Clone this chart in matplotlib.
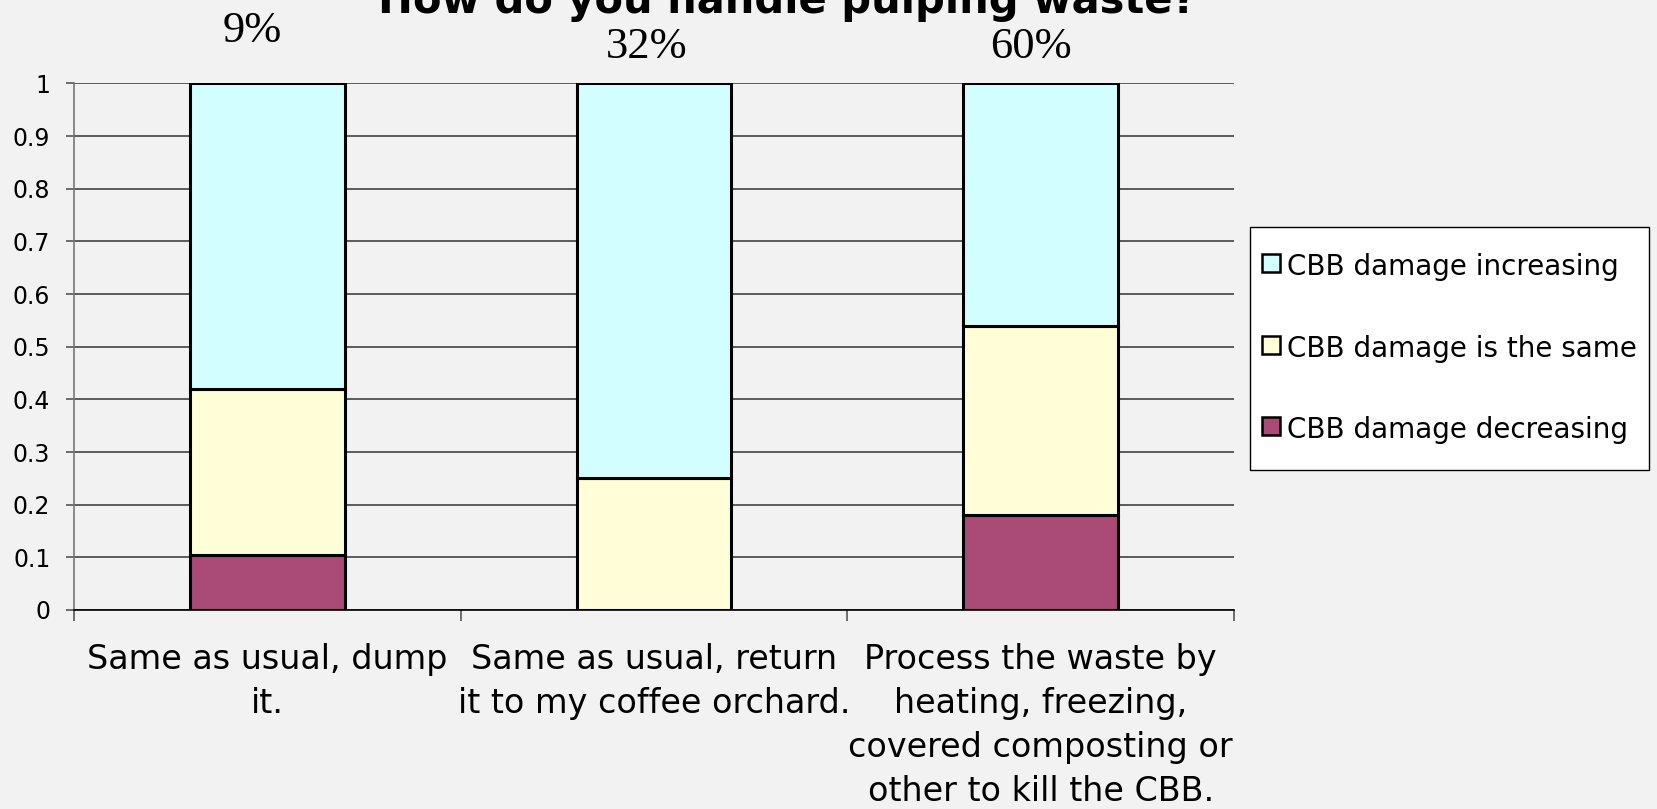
import matplotlib
matplotlib.use("Agg")
import matplotlib.pyplot as plt
from matplotlib.patches import Patch, Rectangle
from matplotlib.legend_handler import HandlerPatch
import numpy as np

# dados
categorias = ["Same as usual, dump\nit.",
              "Same as usual, return\nit to my coffee orchard.",
              "Process the waste by\nheating, freezing,\ncovered composting or\nother to kill the CBB."]
dano_diminuindo = [0.105, 0.0, 0.18]
dano_igual = [0.315, 0.25, 0.36]
dano_aumentando = [0.58, 0.75, 0.46]
percentuais = ["9%", "32%", "60%"]
pos_percentual = [1.099, 1.069, 1.069]
desvio_percentual = [-0.04, -0.02, -0.025]

cor_fundo = "#F2F2F2"
cores = {"aumentando": "#D3FEFF", "igual": "#FFFED6", "diminuindo": "#AA4A76"}
series = [("CBB damage increasing", cores["aumentando"]),
          ("CBB damage is the same", cores["igual"]),
          ("CBB damage decreasing", cores["diminuindo"])]


def quadrado(legend, orig_handle, xdescent, ydescent, width, height, fontsize):
    # quadradinho centrado na altura das maiúsculas do texto
    lado = 0.64 * fontsize
    return Rectangle((width / 2 - xdescent - lado / 2, 0.44 * fontsize - lado / 2),
                     lado, lado)


fig = plt.figure(figsize=(16.58, 8.09), dpi=100, facecolor=cor_fundo)
ax = fig.add_axes([0.0446, 0.246, 0.6997, 0.6508])
ax.set_facecolor(cor_fundo)

x = np.arange(len(categorias))
largura = 0.4
base2 = np.array(dano_diminuindo)
base3 = base2 + np.array(dano_igual)

estilo = dict(width=largura, edgecolor="black", linewidth=2.2, zorder=3)
ax.bar(x, dano_diminuindo, color=cores["diminuindo"], **estilo)
ax.bar(x, dano_igual, bottom=base2, color=cores["igual"], **estilo)
ax.bar(x, dano_aumentando, bottom=base3, color=cores["aumentando"], **estilo)

ax.set_xlim(-0.5, len(categorias) - 0.5)
ax.set_ylim(0, 1)
ax.set_yticks(np.arange(0, 1.01, 0.1))
ax.set_yticklabels(["0"] + [f"{v:.1f}" for v in np.arange(0.1, 0.95, 0.1)] + ["1"])
ax.yaxis.grid(True, color="#333333", linewidth=1.1, zorder=0)
ax.tick_params(axis="y", labelsize=17, length=6, color="#555555", width=1.2, pad=11)

ax.set_xticks(x)
ax.set_xticklabels(categorias, fontsize=24, linespacing=1.42)
ax.tick_params(axis="x", length=0, pad=24)
ax.set_xticks(np.arange(-0.5, len(categorias), 1), minor=True)
ax.tick_params(axis="x", which="minor", length=8, color="#555555", width=1.2)

for lado in ["top", "right"]:
    ax.spines[lado].set_visible(False)
ax.spines["left"].set_color("#777777")
ax.spines["left"].set_linewidth(1.2)
ax.spines["bottom"].set_color("black")
ax.spines["bottom"].set_linewidth(1.2)

# percentuais acima das barras
for i, (txt, y, dx) in enumerate(zip(percentuais, pos_percentual, desvio_percentual)):
    ax.text(i + dx, y, txt, ha="center", va="center", fontsize=32,
            family="Liberation Serif", clip_on=False)

# título cortado no topo, como no original
fig.text(787 / 1658, 1 - 12.5 / 809, "How do you handle pulping waste?",
         ha="center", va="baseline", fontsize=30, fontweight="bold")

alcas = [Patch(facecolor=cor, edgecolor="black", linewidth=1.8) for _, cor in series]
leg = ax.legend(alcas, [nome for nome, _ in series], loc="center left",
                bbox_to_anchor=(1.0137, 0.4967), fontsize=20, frameon=True,
                fancybox=False, edgecolor="black", framealpha=1,
                handler_map={Patch: HandlerPatch(patch_func=quadrado)},
                handlelength=0.62, handleheight=2.66, handletextpad=0.25,
                labelspacing=0.96, borderpad=0.45, borderaxespad=0)
leg.get_frame().set_linewidth(1.0)

fig.savefig("out.png", dpi=100, facecolor=cor_fundo)
